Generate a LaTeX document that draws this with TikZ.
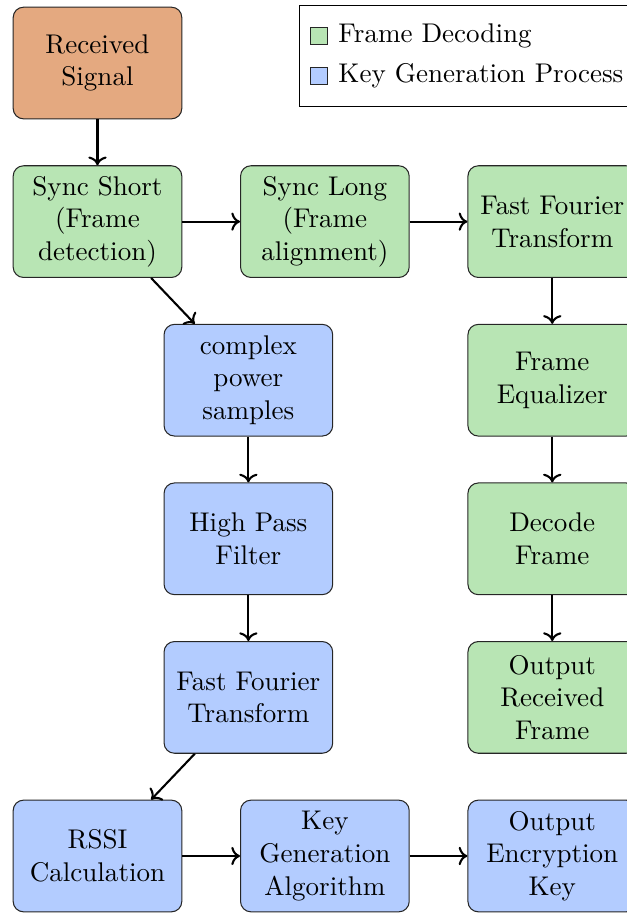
\documentclass[tikz,border=0pt]{standalone}
\usepackage{xcolor}
\usepackage{tikz}
\usetikzlibrary{arrows.meta, positioning, fit, backgrounds}
\definecolor{inputorange}{RGB}{228,169,128}
\definecolor{framegreen}{RGB}{184,229,180}
\definecolor{keyblue}{RGB}{179,204,255}
\tikzset{
  inputbox/.style={rectangle, draw=black!85, fill=inputorange, rounded corners=4pt,
                   text width=2.08cm, align=center, inner xsep=0.09cm,
                   minimum width=2.28cm, minimum height=1.51cm},
  framebox/.style={rectangle, draw=black!85, fill=framegreen, rounded corners=4pt,
                   text width=2.08cm, align=center, inner xsep=0.09cm,
                   minimum width=2.28cm, minimum height=1.51cm},
  keybox/.style={rectangle, draw=black!85, fill=keyblue, rounded corners=4pt,
                 text width=2.08cm, align=center, inner xsep=0.09cm,
                 minimum width=2.28cm, minimum height=1.51cm},
  arrow/.style={->, thick},
  legendsq/.style={rectangle, draw=black!85, minimum size=0.24cm, inner sep=0pt},
  legendtext/.style={anchor=west, inner sep=0pt},
  legendbox/.style={rectangle, draw, inner xsep=0.13cm, inner ysep=0.24cm},
}

\begin{document}
\begin{tikzpicture}[node distance=0.62cm and 0.78cm,
                    font=\fontsize{10.4pt}{12.6pt}\selectfont]
  \path[use as bounding box] (-1.318,0.852) rectangle (7.145,-11.491);

  % --- Input ---
  \node[inputbox] (rs) at (0,0) {Received Signal};

  % --- Frame decoding ---
  \node[framebox, below=of rs] (ss) {Sync Short (Frame detection)};
  \node[framebox, right=of ss] (sl) {Sync Long (Frame alignment)};
  \node[framebox, right=of sl] (fft) {Fast Fourier Transform};
  \node[framebox, below=of fft] (eq) {Frame Equalizer};
  \node[framebox, below=of eq] (dec) {Decode Frame};
  \node[framebox, below=of dec] (orf) {Output Received Frame};

  % --- Key generation ---
  \node[keybox, below=of ss, xshift=2.04cm] (cps) {complex power samples};
  \node[keybox, below=of cps] (hpf) {High Pass Filter};
  \node[keybox, below=of hpf] (fftk) {Fast Fourier Transform};
  \node[keybox, below=of fftk, xshift=-2.04cm] (rssi) {RSSI Calculation};
  \node[keybox, right=of rssi] (kga) {Key Generation Algorithm};
  \node[keybox, right=of kga] (oek) {Output Encryption Key};

  % --- Arrows ---
  \draw[arrow] (rs) -- (ss);
  \draw[arrow] (ss) -- (sl);
  \draw[arrow] (sl) -- (fft);
  \draw[arrow] (fft) -- (eq);
  \draw[arrow] (eq) -- (dec);
  \draw[arrow] (dec) -- (orf);
  \draw[arrow] (ss) -- (cps);
  \draw[arrow] (cps) -- (hpf);
  \draw[arrow] (hpf) -- (fftk);
  \draw[arrow] (fftk) -- (rssi);
  \draw[arrow] (rssi) -- (kga);
  \draw[arrow] (kga) -- (oek);

  % --- Legend ---
  \node[legendsq, fill=framegreen] (lg1) at (2.994,0.365) {};
  \node[legendtext, right=0.13cm of lg1] (lt1) {Frame Decoding};
  \node[legendsq, fill=keyblue] (lg2) at (2.994,-0.176) {};
  \node[legendtext, right=0.13cm of lg2] (lt2) {Key Generation Process};
  \node[legendbox, fit=(lg1)(lt1)(lg2)(lt2)] (legend) {};
\end{tikzpicture}
\end{document}
